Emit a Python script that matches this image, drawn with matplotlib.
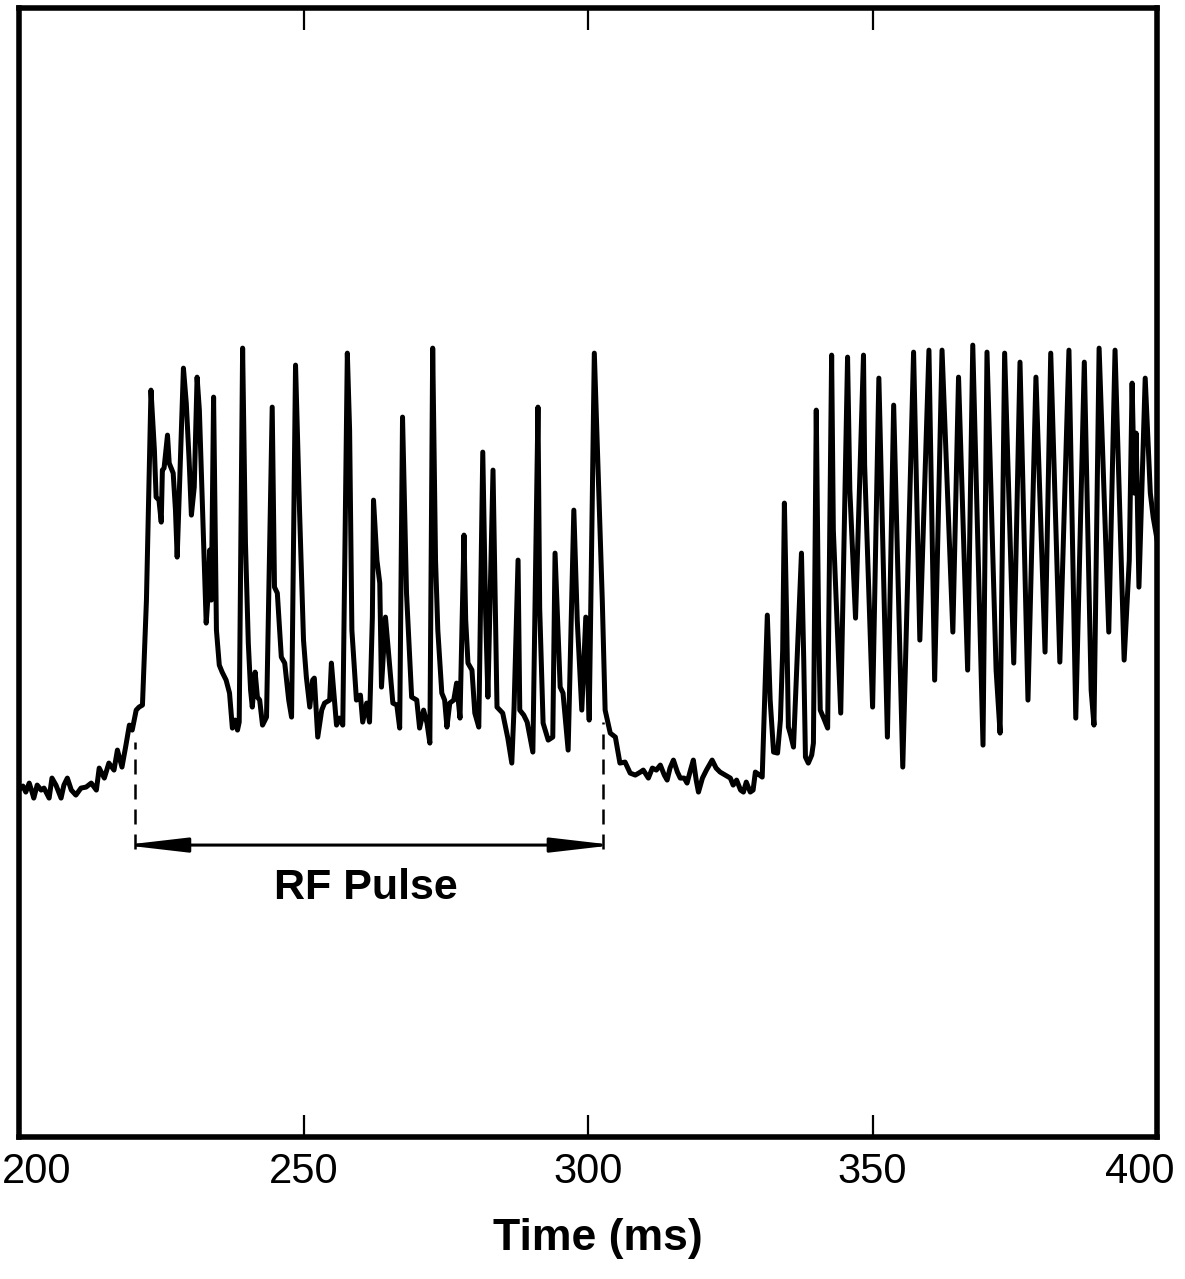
import matplotlib
matplotlib.use("Agg")
import matplotlib.pyplot as plt
import matplotlib.transforms as mtransforms
from matplotlib.patches import FancyArrowPatch

plt.rcParams['font.family'] = ['Liberation Sans', 'DejaVu Sans']

# membrane trace, time in ms, amplitude in arbitrary units (y axis unlabeled)
time_ms = [
    200.0, 200.7, 201.2, 201.8, 202.3, 202.6, 203.2, 203.9, 204.4, 205.3,
    205.8, 206.5, 207.4, 207.9, 208.5, 209.2, 210.0, 210.9, 211.8, 212.7,
    213.6, 214.1, 215.0, 215.8, 216.7, 217.3, 218.1, 218.8, 219.4, 219.9,
    220.6, 221.1, 221.7, 222.4, 222.9, 223.2, 223.8, 224.1, 224.6, 225.0,
    225.2, 225.5, 226.1, 226.4, 227.1, 227.5, 227.8, 228.3, 228.9, 229.4,
    229.9, 230.3, 230.8, 231.3, 231.7, 232.2, 232.9, 233.3, 233.5, 233.8,
    234.2, 234.7, 235.2, 235.7, 236.4, 237.0, 237.5, 238.0, 238.4, 238.7,
    239.3, 239.8, 240.3, 240.7, 241.0, 241.5, 241.9, 242.3, 242.8, 243.5,
    244.5, 244.9, 245.4, 246.1, 246.7, 247.4, 247.9, 248.6, 249.3, 250.0,
    250.5, 251.1, 251.6, 251.9, 252.5, 253.2, 253.7, 254.6, 254.9, 255.3,
    255.8, 256.3, 256.9, 257.7, 258.1, 258.5, 259.3, 260.0, 260.4, 261.1,
    261.6, 262.1, 262.3, 262.9, 263.4, 263.7, 264.4, 265.1, 265.7, 266.4,
    266.9, 267.4, 268.1, 269.0, 269.9, 270.4, 271.1, 271.7, 272.2, 272.7,
    273.2, 273.6, 274.3, 274.8, 275.2, 275.7, 276.4, 276.9, 277.5, 278.2,
    278.5, 278.9, 279.6, 280.1, 280.8, 281.5, 282.0, 282.4, 283.3, 284.0,
    284.5, 285.0, 285.9, 286.6, 287.0, 287.7, 288.0, 288.7, 289.3, 290.3,
    291.2, 291.5, 292.1, 293.0, 293.8, 294.2, 295.1, 295.6, 296.5, 297.5,
    298.1, 298.9, 299.6, 300.2, 301.1, 301.8, 302.5, 303.0, 303.9, 304.8,
    305.6, 306.5, 307.4, 308.3, 309.2, 309.7, 310.6, 311.3, 312.0, 312.7,
    313.4, 313.9, 314.4, 315.0, 315.7, 316.2, 316.9, 317.4, 318.0, 318.5,
    319.0, 319.4, 320.1, 320.8, 321.3, 321.8, 322.5, 323.2, 324.1, 325.0,
    325.5, 326.1, 326.8, 327.3, 327.8, 328.5, 329.0, 329.4, 329.9, 330.6,
    331.5, 332.0, 332.6, 333.3, 333.8, 334.2, 334.5, 334.9, 335.2, 335.6,
    336.1, 337.5, 337.9, 338.2, 338.7, 339.3, 339.6, 340.1, 340.5, 340.8,
    341.4, 342.1, 342.8, 343.1, 344.4, 345.6, 346.0, 347.0, 348.4, 348.6,
    350.0, 351.1, 352.6, 353.7, 355.3, 357.2, 358.3, 359.9, 360.9, 362.2,
    364.1, 365.1, 366.7, 367.6, 369.4, 370.1, 371.7, 372.4, 373.2, 374.8,
    375.9, 377.3, 378.7, 380.3, 381.3, 382.9, 384.5, 385.7, 387.2, 388.4,
    388.9, 389.8, 391.5, 392.6, 394.2, 395.1, 395.6, 396.0, 396.3, 396.8,
    397.9, 398.8, 399.3, 400.0,
]
amplitude = [
    34.7, 35.1, 34.5, 35.4, 34.5, 33.9, 35.2, 34.7, 34.9, 33.9,
    35.9, 35.2, 33.9, 35.2, 35.9, 34.7, 34.2, 34.9, 35.0, 35.4,
    34.7, 36.9, 35.9, 37.4, 36.7, 38.7, 37.0, 39.2, 41.2, 40.7,
    42.7, 43.0, 43.2, 53.7, 66.7, 74.7, 68.7, 64.0, 63.7, 61.5,
    66.7, 66.9, 70.2, 67.4, 66.4, 62.7, 58.0, 66.7, 76.9, 73.4,
    67.7, 62.2, 65.0, 76.0, 72.7, 63.7, 51.4, 54.7, 58.7, 53.7,
    74.0, 50.7, 47.2, 46.5, 45.7, 44.4, 40.9, 41.7, 40.7, 41.5,
    78.9, 59.4, 49.4, 44.7, 43.0, 46.5, 44.0, 43.7, 41.2, 42.0,
    73.0, 55.0, 54.4, 48.0, 47.4, 43.7, 42.0, 77.2, 62.7, 49.7,
    46.0, 43.0, 45.7, 45.9, 40.0, 42.7, 43.4, 43.7, 47.4, 44.7,
    41.2, 41.9, 41.2, 78.4, 70.7, 50.7, 43.7, 44.2, 41.5, 43.4,
    41.5, 52.0, 63.7, 57.7, 55.4, 45.0, 52.0, 47.4, 43.4, 43.2,
    40.9, 72.0, 54.4, 44.0, 43.7, 40.9, 42.7, 41.4, 39.4, 78.9,
    57.7, 50.7, 44.4, 43.7, 41.0, 43.4, 43.7, 45.4, 41.9, 60.2,
    51.7, 47.4, 46.7, 42.4, 41.0, 68.5, 52.4, 44.0, 66.7, 43.0,
    42.7, 42.4, 39.9, 37.4, 43.0, 57.7, 42.7, 42.2, 41.5, 38.5,
    73.0, 52.9, 41.4, 39.7, 40.0, 58.4, 45.0, 44.4, 38.7, 62.7,
    51.7, 42.7, 52.0, 41.7, 78.4, 66.2, 53.7, 42.7, 40.4, 40.0,
    37.4, 37.5, 36.4, 36.2, 36.5, 36.7, 35.9, 36.9, 36.7, 37.2,
    36.2, 35.7, 36.9, 37.7, 36.5, 35.9, 35.9, 35.4, 36.7, 37.7,
    35.7, 34.5, 35.9, 36.7, 37.2, 37.7, 36.9, 36.5, 36.2, 35.9,
    35.2, 35.7, 34.7, 34.5, 35.5, 34.5, 34.7, 36.5, 36.3, 36.0,
    52.2, 43.7, 38.5, 38.4, 41.7, 48.7, 63.4, 51.7, 41.0, 40.2,
    39.0, 58.4, 47.7, 38.0, 37.4, 38.2, 39.4, 72.7, 51.7, 42.7,
    41.9, 40.9, 78.2, 60.7, 42.4, 78.0, 64.7, 51.9, 78.2, 67.2,
    43.0, 75.9, 40.0, 73.2, 37.0, 78.5, 49.7, 78.7, 45.7, 78.7,
    50.5, 76.0, 46.7, 79.2, 39.2, 78.5, 46.7, 40.4, 78.4, 47.4,
    77.5, 43.7, 76.0, 48.5, 78.4, 47.5, 78.7, 41.9, 77.5, 44.7,
    41.2, 78.9, 50.5, 78.7, 47.7, 57.7, 75.4, 64.4, 70.4, 55.0,
    75.9, 64.4, 62.0, 59.7,
]

# RF pulse marker
pulse_start, pulse_end = 220.4, 302.6
pulse_label = "RF Pulse"
xtick_values = [200, 250, 300, 350, 400]
xlabel = "Time (ms)"

fig = plt.figure(figsize=(11.85, 12.79), dpi=100)
ax = fig.add_axes([0.016, 0.111, 0.9605, 0.8826])

ax.plot(time_ms, amplitude, color='black', lw=3.6, solid_joinstyle='round')

ax.set_xlim(200, 400)
ax.set_ylim(0, 112.9)

# dashed verticals and double arrow
ax.plot([pulse_start, pulse_start], [28.8, 39.5], color='black', lw=1.8, dashes=(6, 4))
ax.plot([pulse_end, pulse_end], [28.8, 41.5], color='black', lw=1.8, dashes=(6, 4))
# arrowheads are inset by the patch; reach out so the tips meet the dashes
overshoot = 2.0
arr = FancyArrowPatch((pulse_start - overshoot, 29.2), (pulse_end + overshoot, 29.2),
                      arrowstyle='<|-|>,head_length=1.9,head_width=0.22',
                      mutation_scale=20, color='black', lw=2.2, shrinkA=0, shrinkB=0)
ax.add_patch(arr)
ax.text((pulse_start + pulse_end) / 2 - 0.6, 24.9, pulse_label, ha='center', va='center',
        fontsize=31, fontweight='bold')

for s in ax.spines.values():
    s.set_linewidth(4)

ax.set_yticks([])
ax.set_xticks(xtick_values)
ax.set_xticklabels([str(v) for v in xtick_values])
ax.tick_params(axis='x', which='both', direction='in', length=16, width=1.6,
               top=True, labelsize=30, pad=11)

# pull the end labels inward as in the original
labels = ax.get_xticklabels()
labels[0].set_transform(labels[0].get_transform() +
                        mtransforms.ScaledTranslation(0.18, 0, fig.dpi_scale_trans))
labels[-1].set_transform(labels[-1].get_transform() +
                         mtransforms.ScaledTranslation(-0.17, 0, fig.dpi_scale_trans))

ax.set_xlabel(xlabel, fontsize=32, fontweight='bold')
ax.xaxis.set_label_coords(0.509, -0.072)

fig.savefig('out.png', dpi=100)
